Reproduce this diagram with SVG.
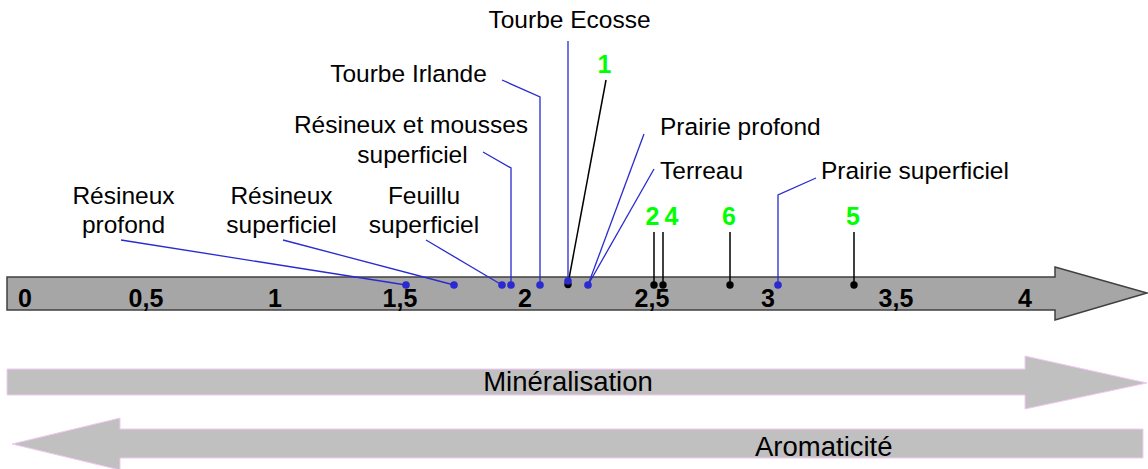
<svg xmlns="http://www.w3.org/2000/svg" width="1148" height="469" viewBox="0 0 1148 469">
<style>
.lbl{font-family:"Liberation Sans",Arial,sans-serif;font-size:24.5px;fill:#000}
.ax{font-family:"Liberation Sans",Arial,sans-serif;font-size:25px;font-weight:bold;fill:#000}
.num{font-family:"Liberation Sans",Arial,sans-serif;font-size:25px;font-weight:bold;fill:#00ff00}
.big{font-family:"Liberation Sans",Arial,sans-serif;font-size:27.5px;fill:#000}
.bl{stroke:#2a2ad0;stroke-width:1.3;fill:none}
.kl{stroke:#000;stroke-width:1.5;fill:none}
.bd{fill:#2a2ad0}
.kd{fill:#000}
</style>
<rect width="1148" height="469" fill="#fff"/>
<g id="axis">
<polygon points="7,277 1055,277 1055,267 1147,293 1055,320 1055,310 7,310" fill="#a6a6a6" stroke="#404040" stroke-width="1.5"/>
<text class="ax" x="25" y="307" text-anchor="middle">0</text>
<text class="ax" x="146" y="307" text-anchor="middle">0,5</text>
<text class="ax" x="275" y="307" text-anchor="middle">1</text>
<text class="ax" x="400" y="307" text-anchor="middle">1,5</text>
<text class="ax" x="525" y="307" text-anchor="middle">2</text>
<text class="ax" x="652" y="307" text-anchor="middle">2,5</text>
<text class="ax" x="768" y="307" text-anchor="middle">3</text>
<text class="ax" x="896" y="307" text-anchor="middle">3,5</text>
<text class="ax" x="1025" y="307" text-anchor="middle">4</text>
</g>
<g id="mineralisation">
<polygon points="7,369 1025,369 1025,356 1147,383 1025,409 1025,395 7,395" fill="#c0c0c0" stroke="#f4c8f4" stroke-width="1"/>
<text class="big" x="568" y="391" text-anchor="middle">Minéralisation</text>
</g>
<g id="aromaticite">
<polygon points="1143,429 120,429 120,418 12,444 120,470 120,458 1143,458" fill="#c0c0c0" stroke="#f4c8f4" stroke-width="1"/>
<text class="big" x="755" y="456">Aromaticité</text>
</g>
<g id="connectors">
<polyline class="bl" points="121,240 406,285"/>
<polyline class="bl" points="283,240 454,285"/>
<polyline class="bl" points="426,240 502,285"/>
<polyline class="bl" points="483,152 511,168 511,285"/>
<polyline class="bl" points="502,80 540,97 540,285"/>
<polyline class="kl" points="606,80 568,284"/>
<polyline class="bl" points="568,41 568,281"/>
<polyline class="bl" points="644,134 588,285"/>
<polyline class="bl" points="654,169 588,285"/>
<polyline class="kl" points="654,232 654,285"/>
<polyline class="kl" points="663,232 663,285"/>
<polyline class="kl" points="730,232 730,285"/>
<polyline class="kl" points="854,232 854,285"/>
<polyline class="bl" points="816,178 778,195 778,285"/>
</g>
<g id="dots">
<circle class="kd" cx="568" cy="284.5" r="3.7"/>
<circle class="bd" cx="406" cy="285" r="3.8"/>
<circle class="bd" cx="454" cy="285" r="3.8"/>
<circle class="bd" cx="502" cy="285" r="3.8"/>
<circle class="bd" cx="511" cy="285" r="3.8"/>
<circle class="bd" cx="540" cy="285" r="3.8"/>
<circle class="bd" cx="568" cy="281" r="3.8"/>
<circle class="bd" cx="588" cy="285" r="3.8"/>
<circle class="kd" cx="654" cy="285" r="3.7"/>
<circle class="kd" cx="663" cy="285" r="3.7"/>
<circle class="kd" cx="730" cy="285" r="3.7"/>
<circle class="kd" cx="854" cy="285" r="3.7"/>
<circle class="bd" cx="778" cy="285" r="3.8"/>
</g>
<g id="resineux-profond"><text class="lbl" text-anchor="middle"><tspan x="123.5" y="204">Résineux</tspan><tspan x="123.5" y="233">profond</tspan></text></g>
<g id="resineux-superficiel"><text class="lbl" text-anchor="middle"><tspan x="281.5" y="204">Résineux</tspan><tspan x="281.5" y="233">superficiel</tspan></text></g>
<g id="feuillu-superficiel"><text class="lbl" text-anchor="middle"><tspan x="424" y="204">Feuillu</tspan><tspan x="424" y="233">superficiel</tspan></text></g>
<g id="resineux-mousses"><text class="lbl" text-anchor="middle"><tspan x="411" y="133">Résineux et mousses</tspan><tspan x="412.5" y="163">superficiel</tspan></text></g>
<g id="tourbe-irlande"><text class="lbl" x="408.5" y="82" text-anchor="middle">Tourbe Irlande</text></g>
<g id="tourbe-ecosse"><text class="lbl" x="569.5" y="28" text-anchor="middle">Tourbe Ecosse</text></g>
<g id="prairie-profond"><text class="lbl" x="660" y="135">Prairie profond</text></g>
<g id="terreau"><text class="lbl" x="660" y="179">Terreau</text></g>
<g id="prairie-superficiel"><text class="lbl" x="821" y="179">Prairie superficiel</text></g>
<g id="n1"><text class="num" x="604.5" y="73" text-anchor="middle">1</text></g>
<g id="n2"><text class="num" x="652.5" y="225" text-anchor="middle">2</text></g>
<g id="n4"><text class="num" x="671.5" y="225" text-anchor="middle">4</text></g>
<g id="n6"><text class="num" x="729" y="225" text-anchor="middle">6</text></g>
<g id="n5"><text class="num" x="853" y="225" text-anchor="middle">5</text></g>
</svg>
